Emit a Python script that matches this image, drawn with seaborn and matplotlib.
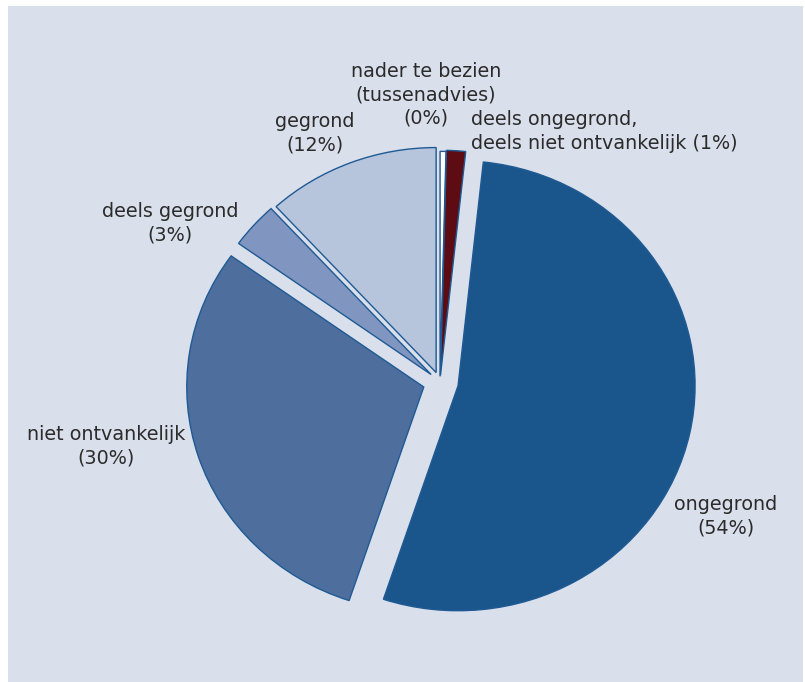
import matplotlib
matplotlib.use("Agg")
import matplotlib.pyplot as plt
import seaborn as sns

# ---- data ----
categories = [
    "nader te bezien\n(tussenadvies)",
    "deels ongegrond,\ndeels niet ontvankelijk",
    "ongegrond",
    "niet ontvankelijk",
    "deels gegrond",
    "gegrond",
]
shares = [0.4, 1.3, 53.4, 29.8, 3.3, 11.8]
pct_labels = ["(0%)", "(1%)", "(54%)", "(30%)", "(3%)", "(12%)"]
colors = ["#ffffff", "#5c0c12", "#1a558c", "#4e6f9e", "#8096c0", "#b6c4dc"]
explode = [0.025, 0.03, 0.078, 0.072, 0.05, 0.045]

sns.set_theme(style="white")
plt.rcParams["font.family"] = ["DejaVu Sans"]

W, H = 805, 682
fig = plt.figure(figsize=(W / 100, H / 100), dpi=100, facecolor="white")
panel = "#d9dfeb"
ax = fig.add_axes([8 / W, 0, 795 / W, 676 / H])
ax.set_facecolor(panel)

# pie geometry in pixels
cx, cy, rx, ry = 440, 382, 237, 225

wedges, _ = ax.pie(
    shares,
    colors=colors,
    explode=explode,
    startangle=90,
    counterclock=False,
    radius=1,
    center=(0, 0),
    wedgeprops=dict(edgecolor="#1f5a94", linewidth=1.0),
    frame=False,
)
ax.set_aspect("auto")
ax.set_xlim((8 - cx) / rx, (803 - cx) / rx)
ax.set_ylim((cy - 682) / ry, (cy - 6) / ry)
ax.set_axis_off()
ax.add_artist(plt.Rectangle((0, 0), 1, 1, transform=ax.transAxes,
                            facecolor=panel, edgecolor="none", zorder=-10))

# label layout (pixel positions of text block)
label_pos = [
    (426, 95, "center"),
    (471, 131.5, "left"),
    (726, 516.5, "center"),
    (106, 446.5, "center"),
    (170, 223.5, "center"),
    (315, 133.5, "center"),
]
fs = 13.8
for cat, pct, (px, py, ha) in zip(categories, pct_labels, label_pos):
    if ha == "left":
        txt = cat + " " + pct
    else:
        txt = cat + "\n" + pct
    fig.text(px / W, 1 - py / H, txt, ha=ha, va="center", multialignment=ha,
             fontsize=fs, color="#2b2b2b", linespacing=1.27)

fig.savefig("out.png", dpi=100, facecolor="white")
